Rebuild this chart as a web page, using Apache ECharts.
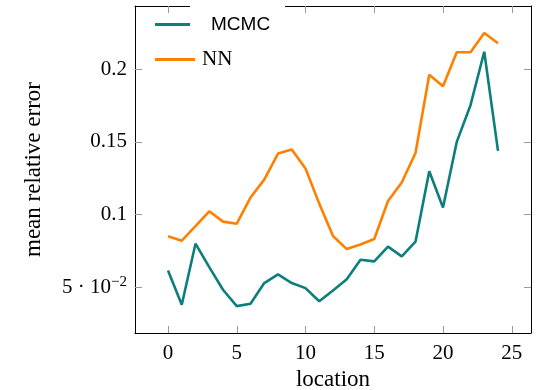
<!DOCTYPE html>
<html>
<head>
<meta charset="utf-8">
<script src="https://cdn.jsdelivr.net/npm/echarts@6/dist/echarts.min.js"></script>
<style>html,body{margin:0;padding:0;background:#fff}#c{width:539px;height:390px}</style>
</head>
<body>
<div id="c"></div>
<script>
const locations = [0,1,2,3,4,5,6,7,8,9,10,11,12,13,14,15,16,17,18,19,20,21,22,23,24];
const mcmc = [0.0615,0.0379,0.0799,0.0638,0.0482,0.0369,0.0385,0.0528,0.0588,0.0528,0.0493,0.0403,0.0477,0.0555,0.0689,0.0677,0.0779,0.0712,0.0813,0.1298,0.1048,0.1500,0.1753,0.2121,0.1438];
const nn = [0.0850,0.0820,0.0920,0.1022,0.0951,0.0937,0.1117,0.1240,0.1420,0.1448,0.1317,0.1075,0.0852,0.0762,0.0794,0.0831,0.1093,0.1220,0.1424,0.1962,0.1884,0.2117,0.2117,0.2250,0.2179];
const xTicks = [0,5,10,15,20,25];
const yTicks = [0.05,0.1,0.15,0.2];

const serif = "'Liberation Serif', 'DejaVu Serif', serif";
const chart = echarts.init(document.getElementById('c'), null, {renderer:'canvas'});
const tickStyle = {show:true, inside:true, length:7, lineStyle:{color:'#9a9a9a', width:1}};
const lineAx = {show:true, onZero:false, lineStyle:{color:'#000', width:1}};
chart.setOption({
  animation:false,
  grid:{left:135, right:8, top:6, bottom:57, containLabel:false, outerBoundsMode:'none'},
  legend:[
    {data:['MCMC'], left:155, top:15, padding:0, icon:'rect', itemWidth:35, itemHeight:3,
     textStyle:{fontFamily:"'Liberation Sans', Arial, sans-serif", fontSize:19, color:'#000', padding:[0,0,18,16]}},
    {data:['NN'], left:155, top:49, padding:0, icon:'rect', itemWidth:40, itemHeight:3,
     textStyle:{fontFamily:serif, fontSize:21, color:'#000', padding:[0,0,0,2]}}
  ],
  xAxis:[
    {type:'value', min:-2.4, max:26.4, position:'bottom',
     axisLine:lineAx, splitLine:{show:false},
     axisTick:Object.assign({customValues:xTicks}, tickStyle),
     axisLabel:{customValues:xTicks, margin:10, fontFamily:serif, fontSize:21, color:'#000'},
     name:'location', nameLocation:'middle', nameGap:33,
     nameTextStyle:{fontFamily:serif, fontSize:23, color:'#000'}},
    {type:'value', min:-2.4, max:26.4, position:'top',
     axisLine:lineAx, splitLine:{show:false},
     axisTick:Object.assign({customValues:xTicks}, tickStyle),
     axisLabel:{show:false}}
  ],
  yAxis:[
    {type:'value', min:0.0184, max:0.2436, position:'left',
     axisLine:lineAx, splitLine:{show:false},
     axisTick:Object.assign({customValues:yTicks}, tickStyle),
     axisLabel:{customValues:yTicks, margin:8, fontFamily:serif, fontSize:21, color:'#000',
       formatter:function(v){ return Math.abs(v-0.05)<1e-9 ? '{a|5 · 10}{s|−2}' : String(+v.toFixed(2)); },
       rich:{a:{fontFamily:serif, fontSize:21, color:'#000', lineHeight:26},
             s:{fontFamily:serif, fontSize:15, color:'#000', verticalAlign:'top', lineHeight:26}}},
     name:'mean relative error', nameLocation:'middle', nameGap:90, nameRotate:90,
     nameTextStyle:{fontFamily:serif, fontSize:23, color:'#000'}},
    {type:'value', min:0.0184, max:0.2436, position:'right',
     axisLine:lineAx, splitLine:{show:false},
     axisTick:Object.assign({customValues:yTicks}, tickStyle),
     axisLabel:{show:false}}
  ],
  graphic:[{type:'rect', shape:{x:190, y:0, width:95, height:14}, style:{fill:'#fff'}, z:100}],
  series:[
    {name:'MCMC', type:'line', data:locations.map((x,i)=>[x,mcmc[i]]), showSymbol:false, symbol:'none',
     lineStyle:{color:'#0d7f7b', width:2.6}, itemStyle:{color:'#0d7f7b'}},
    {name:'NN', type:'line', data:locations.map((x,i)=>[x,nn[i]]), showSymbol:false, symbol:'none',
     lineStyle:{color:'#ff8000', width:2.6}, itemStyle:{color:'#ff8000'}}
  ]
});
</script>
</body>
</html>
